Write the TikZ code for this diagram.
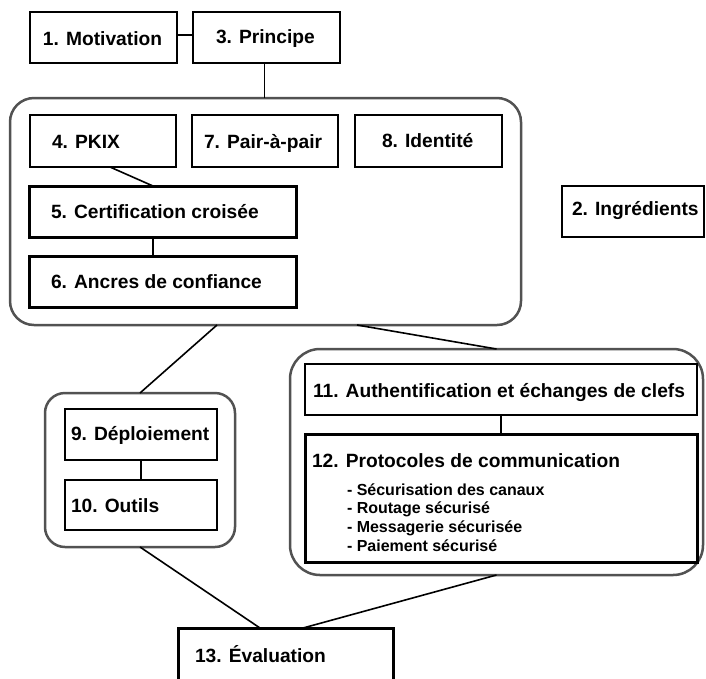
\documentclass[tikz,border=0pt]{standalone}
\usepackage{fontspec}
\setmainfont{Liberation Sans}
\newcommand\bt[3]{\makebox[#1pt][l]{\hspace*{#2pt}#3}}
\begin{document}
\begin{tikzpicture}[x=1pt,y=-1pt,
  bx/.style={draw, line width=2pt, anchor=north west, inner sep=0pt, outer sep=0pt,
    font=\fontsize{19.2}{22}\selectfont\bfseries},
  bxk/.style={bx, line width=3pt},
  grp/.style={draw=black!68, line width=2.5pt, anchor=north west, inner sep=0pt, outer sep=0pt},
  con/.style={line width=1.6pt}]
\useasboundingbox (0,0) rectangle (706,678);
% groups
\node[grp, minimum width=511pt, minimum height=227pt, rounded corners=24pt] (big) at (10,98) {};
\node[grp, minimum width=190pt, minimum height=154pt, rounded corners=20pt] (lg) at (45,393) {};
\node[grp, minimum width=413pt, minimum height=226pt, rounded corners=30pt] (rg) at (290,349) {};
% boxes
\node[bx, text height=33pt, text depth=18pt] (mot) at (30,12) {\bt{147}{13}{1. Motivation}};
\node[bx, text height=31pt, text depth=20pt] (pri) at (193,12) {\bt{147}{23}{3. Principe}};
\node[bx, text height=33pt, text depth=19pt] (pkix) at (30,115) {\bt{146}{22}{4. PKIX}};
\node[bx, text height=33pt, text depth=19pt] (pap) at (192,115) {\bt{146}{12}{7. Pair-à-pair}};
\node[bx, text height=32pt, text depth=20pt] (ide) at (355,115) {\bt{147}{27}{8. Identité}};
\node[bxk, text height=32pt, text depth=19pt] (cert) at (29,186) {\bt{267}{22}{5. Certification croisée}};
\node[bxk, text height=32pt, text depth=19pt] (anc) at (29,256) {\bt{267}{22}{6. Ancres de confiance}};
\node[bx, text height=29pt, text depth=22pt] (ing) at (562,186) {\bt{142}{10}{2. Ingrédients}};
\node[bx, text height=33pt, text depth=18pt] (aut) at (305,364) {\bt{392}{8}{11. Authentification et échanges de clefs}};
\node[bxk, text height=33pt, text depth=95pt] (pro) at (305,434) {\parbox[t]{392pt}{%
  \hspace*{7pt}12. Protocoles de communication\par
  \vspace{9.3pt}%
  {\fontsize{16}{18.7}\selectfont
  \hspace*{42pt}- Sécurisation des canaux\par
  \hspace*{42pt}- Routage sécurisé\par
  \hspace*{42pt}- Messagerie sécurisée\par
  \hspace*{42pt}- Paiement sécurisé\par}}};
\node[bx, text height=31pt, text depth=20pt] (dep) at (65,409) {\bt{152}{6}{9. Déploiement}};
\node[bx, text height=32pt, text depth=18pt] (out) at (65,480) {\bt{152}{6}{10. Outils}};
\node[bxk, text height=34pt, text depth=40pt] (eva) at (178,628) {\bt{215}{17}{13. Évaluation}};
% connectors
\draw[con] ([yshift=2.5pt]mot.east) -- ([yshift=2.5pt]pri.west);
\draw[con] ([xshift=-2pt]pri.south) -- ([xshift=-2pt]pri.south |- big.north);
\draw[con] ([xshift=7pt]pkix.south) -- ([xshift=-9.5pt]cert.north);
\draw[con] ([xshift=-9.5pt]cert.south) -- ([xshift=-9.5pt]anc.north);
\draw[con] ([xshift=-48.5pt]big.south) -- (lg.north);
\draw[con] ([xshift=91.5pt]big.south) -- (rg.north);
\draw[con] (dep.south) -- (out.north);
\draw[con] (aut.south) -- (pro.north);
\draw[con] (lg.south) -- ([xshift=-25.5pt]eva.north);
\draw[con] (rg.south) -- ([xshift=17.5pt]eva.north);
\end{tikzpicture}
\end{document}
